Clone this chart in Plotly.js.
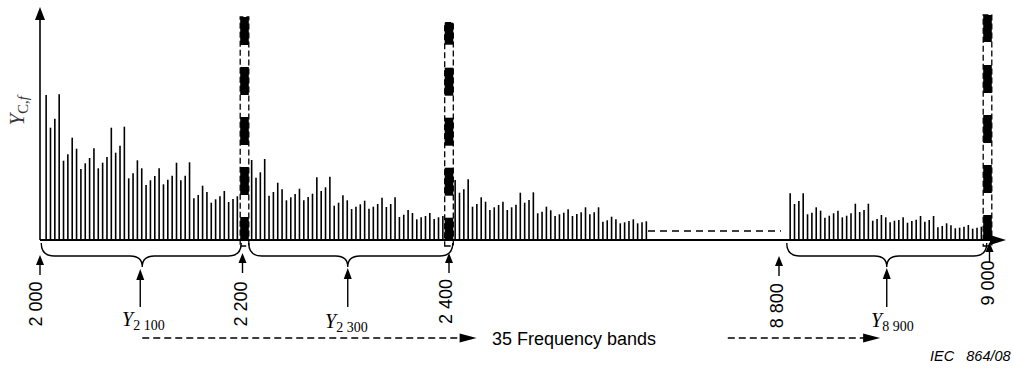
<!DOCTYPE html>
<html><head><meta charset="utf-8">
<script src="https://cdn.plot.ly/plotly-3.0.1.min.js"></script>
<style>html,body{margin:0;padding:0;background:#fff}#chart{width:1014px;height:369px}</style>
</head><body><div id="chart"></div>
<script>
// ---------------- data ----------------
const bandStarts = [2000, 2200, 2400, 8800];
const firstBarOffsetHz = [6, 7, 6, 7];
const barStepHz = 4.25;
const heights2000 = [145,112.3,121.3,145.7,79.3,85.7,102.3,91.3,71,76.7,82,91.7,71.7,77.3,83,112.3,87.3,94.3,113.3,61.7,66.7,79.7,71.7,55,59.7,64,71.7,55.7,60.3,64.3,77.3,59.7,64.3,77.7,41.7,45,54.3,48,37.3,40.7,43.7,49,38,41,43.7];
const heights2200 = [80,62.3,67.7,81,44.3,48,57.3,50.7,39.7,42.7,46,51.3,39.7,43,46.3,62.7,49,52.7,63.3,34.3,37.3,44.7,39.7,31,33.3,35.7,39.3,31.3,33.3,36,42.3,33,36,42.7,23,25.3,30,27,20.7,22.7,24,27,21,22.7,24];
const heights2400 = [60,47.3,50.7,60.7,33.3,36,42.7,38.3,30,32.7,35,38.3,30,32.7,35.3,47.3,37.3,40,47.7,26.7,28.3,33.3,29.7,24,25.7,27.3,30.7,24,26,27.7,32.7,25.7,27.7,32.7,18.3,19.7,23.3,20.7,16.7,17.7,19,20.7,16.7,17.7,18.7];
const heights8800 = [46.7,36,39,46.7,25.7,27.3,32.7,29.3,22.3,24.3,26.7,29.3,22.7,24.3,26.7,36.3,28,30,36.3,19.3,21,25,22.7,17.7,19.3,20,22.7,17.3,19,20.3,24,18.3,20,24,12.7,14,16.7,14.7,11.7,12.3,13.3,15,11.3,12.3,13.3];
const tickFreqs = [2000, 2200, 2400, 8800, 9000];
const tickLabels = ['2 000', '2 200', '2 400', '8 800', '9 000'];
const markerFreqs = [2200, 2400, 9000];
const centreFreqs = [2100, 2300, 8900];
const centreLabels = ['2 100', '2 300', '8 900'];
const bandsText = '35 Frequency bands';
const yTitle = '<i>Y</i><sub>C,<i>f</i></sub>';
const sourceText = 'IEC&nbsp;&nbsp;&nbsp;864/08';

// ---------------- layout geometry (pixels) ----------------
const W = 1014, H = 369;
const K = 1.0225;        // px per Hz
const PX2000 = 40;       // pixel x of 2000 Hz
const BASE = 240;        // pixel y of baseline
const GAP = 715;         // pixel x where the axis break is
const PX9000 = 987.5;
const x1range = [2000 - PX2000 / K, 2000 + (GAP - PX2000) / K];
const x2range = [9000 - (PX9000 - GAP) / K, 9000 + (W - PX9000) / K];
const y = py => BASE - py;
const ax = f => (f >= 8000 ? 'x2' : 'x');
const INK = '#000';

// ---------------- traces ----------------
const allHeights = [heights2000, heights2200, heights2400, heights8800];
const traces = allHeights.map((hs, s) => ({
  type: 'bar',
  x: hs.map((_, i) => bandStarts[s] + firstBarOffsetHz[s] + i * barStepHz),
  y: hs,
  width: 1.6 / K,
  marker: {color: INK, line: {width: 0}},
  xaxis: s === 3 ? 'x2' : 'x',
  yaxis: 'y',
  hoverinfo: 'skip',
  showlegend: false
}));

// ---------------- shapes ----------------
const shapes = [];
const annotations = [];

// x baseline + arrow
shapes.push({type: 'line', xref: 'paper', yref: 'y', x0: PX2000 / W, x1: 994 / W, y0: 0, y1: 0,
  line: {color: INK, width: 2}});
shapes.push({type: 'path', xref: 'paper', yref: 'y', xsizemode: 'pixel', ysizemode: 'pixel',
  xanchor: 1006 / W, yanchor: 0, path: 'M0,0 L-16,5 L-16,-5 Z', fillcolor: INK, line: {width: 0}});
// y axis + arrow
shapes.push({type: 'line', xref: 'x', yref: 'y', x0: 2000, x1: 2000, y0: 0, y1: y(18),
  line: {color: INK, width: 1.6}});
shapes.push({type: 'path', xref: 'x', yref: 'y', xsizemode: 'pixel', ysizemode: 'pixel',
  xanchor: 2000, yanchor: y(7), path: 'M0,0 L-5,-13 L5,-13 Z', fillcolor: INK, line: {width: 0}});

// gap dashed line
shapes.push({type: 'line', xref: 'paper', yref: 'y', x0: 648 / W, x1: 781 / W, y0: 9, y1: 9,
  line: {color: INK, width: 1.3, dash: '7px,5px'}});

// thick dashed markers at band limits: dashed outline + black blocks
const markerTopPy = [17, 22.7, 15];
const markerFirst = [[28, 22], [22, 23], [27, 23]];
markerFreqs.forEach((f, i) => {
  const a = ax(f);
  shapes.push({type: 'rect', xref: a, yref: 'y', xsizemode: 'pixel', xanchor: f, x0: -4.3, x1: 4.3,
    y0: -6, y1: y(markerTopPy[i]), line: {color: INK, width: 1.3, dash: '6px,3px'}, fillcolor: 'rgba(0,0,0,0)'});
  let top = markerTopPy[i];
  let seg = markerFirst[i][0], gap = markerFirst[i][1];
  while (top < BASE) {
    const bot = Math.min(top + seg, BASE);
    shapes.push({type: 'rect', xref: a, yref: 'y', xsizemode: 'pixel', xanchor: f, x0: -4.3, x1: 4.3,
      y0: y(bot), y1: y(top), fillcolor: INK, line: {width: 0}});
    top = top + seg + gap;
    seg = 28; gap = 22;
  }
});

// braces below the axis (cusp at centre frequency)
const braceDx = [0, 1, 1.5];
const braceHalf = [[101, 99], [99, 105], [100, 100]];
centreFreqs.forEach((f, i) => {
  const L = braceHalf[i][0], R = braceHalf[i][1], dx = braceDx[i];
  const p = (xx, yy) => `${(xx + dx).toFixed(2)},${yy}`;
  const path = `M${p(-L, -3)} Q${p(-L, -16)} ${p(-L + 13, -16)} L${p(-12, -16)} Q${p(0, -16)} ${p(0, -27)} ` +
               `Q${p(0, -16)} ${p(12, -16)} L${p(R - 13, -16)} Q${p(R, -16)} ${p(R, -3)}`;
  shapes.push({type: 'path', xref: ax(f), yref: 'y', xsizemode: 'pixel', ysizemode: 'pixel',
    xanchor: f, yanchor: 0, path: path, line: {color: INK, width: 1.4}, fillcolor: 'rgba(0,0,0,0)'});
});

// vertical arrows helper
function upArrow(f, dx, tipPy, tailPy, hl, hw) {
  const a = ax(f);
  shapes.push({type: 'line', xref: a, yref: 'y', xsizemode: 'pixel', xanchor: f, x0: dx, x1: dx,
    y0: y(tailPy), y1: y(tipPy + hl - 1), line: {color: INK, width: 1.4}});
  shapes.push({type: 'path', xref: a, yref: 'y', xsizemode: 'pixel', ysizemode: 'pixel',
    xanchor: f, yanchor: y(tipPy), path: `M${dx},0 L${dx - hw},${-hl} L${dx + hw},${-hl} Z`,
    fillcolor: INK, line: {width: 0}});
}
const tickArrow = [[0, 255, 275], [-2, 253, 273], [0, 253, 273], [-4, 256, 276], [2, 242, 263]];
tickFreqs.forEach((f, i) => upArrow(f, tickArrow[i][0], tickArrow[i][1], tickArrow[i][2], 10, 4));
const centreArrow = [[-2, 269, 307], [1, 268, 307], [1.5, 268, 307]];
centreFreqs.forEach((f, i) => upArrow(f, centreArrow[i][0], centreArrow[i][1], centreArrow[i][2], 11, 4));

// dashed horizontal arrows
function rightArrow(a, f0, f1, py) {
  shapes.push({type: 'line', xref: a, yref: 'y', x0: f0, x1: f1 - 15 / K, y0: y(py), y1: y(py),
    line: {color: INK, width: 1.4, dash: '7px,4px'}});
  shapes.push({type: 'path', xref: a, yref: 'y', xsizemode: 'pixel', ysizemode: 'pixel',
    xanchor: f1, yanchor: y(py), path: 'M0,0 L-17,4.5 L-17,-4.5 Z', fillcolor: INK, line: {width: 0}});
}
rightArrow('x', 2100, 2427, 338);
rightArrow('x2', 8746, 8895, 338);

// ---------------- text ----------------
const sans = 'Liberation Sans, Arial, sans-serif';
const serif = 'Liberation Serif, Times New Roman, serif';
const tickLabelPos = [[-5, 304.5], [-4.5, 304.5], [-3, 302], [-6.3, 305.5], [-0.5, 283.5]];
tickFreqs.forEach((f, i) => annotations.push({
  xref: ax(f), yref: 'y', x: f, y: y(tickLabelPos[i][1]), xshift: tickLabelPos[i][0],
  text: tickLabels[i], textangle: -90, showarrow: false, xanchor: 'center', yanchor: 'middle',
  font: {family: sans, size: 18, color: INK}
}));
const centreLabelPos = [[1, 320.5], [0, 322], [7, 321.7]];
centreFreqs.forEach((f, i) => annotations.push({
  xref: ax(f), yref: 'y', x: f, y: y(centreLabelPos[i][1]), xshift: centreLabelPos[i][0],
  text: `<i>Y</i><sub>${centreLabels[i]}</sub>`, showarrow: false, xanchor: 'center', yanchor: 'middle',
  font: {family: serif, size: 20, color: INK}
}));
annotations.push({xref: 'paper', yref: 'y', x: 574 / W, y: y(339), text: bandsText, showarrow: false,
  xanchor: 'center', yanchor: 'middle', font: {family: sans, size: 18, color: INK}});
annotations.push({xref: 'paper', yref: 'y', x: 970 / W, y: y(355.5), text: '<i>' + sourceText + '</i>', showarrow: false,
  xanchor: 'center', yanchor: 'middle', font: {family: sans, size: 14.5, color: INK}});
annotations.push({xref: 'x', yref: 'y', x: 2000, xshift: -22.5, y: y(110), text: yTitle, textangle: -90,
  showarrow: false, xanchor: 'center', yanchor: 'middle', font: {family: serif, size: 21, color: '#333'}});

const layout = {
  width: W, height: H,
  margin: {l: 0, r: 0, t: 0, b: 0, pad: 0},
  paper_bgcolor: '#fff', plot_bgcolor: '#fff',
  showlegend: false, hovermode: false, barmode: 'overlay',
  xaxis: {domain: [0, GAP / W], range: x1range, visible: false, fixedrange: true},
  xaxis2: {domain: [GAP / W, 1], range: x2range, visible: false, fixedrange: true, anchor: 'y'},
  yaxis: {domain: [0, 1], range: [BASE - H, BASE], visible: false, fixedrange: true},
  shapes: shapes,
  annotations: annotations
};
Plotly.newPlot('chart', traces, layout, {staticPlot: true, displayModeBar: false});
</script></body></html>
